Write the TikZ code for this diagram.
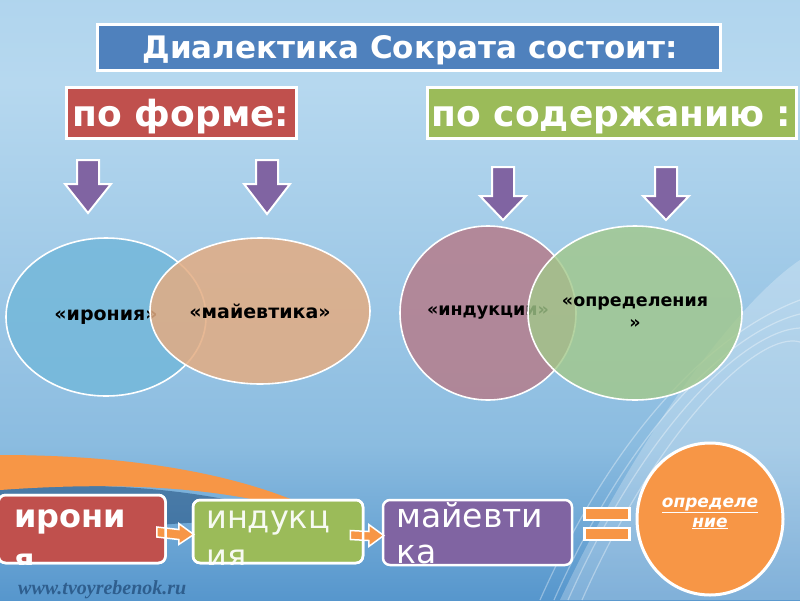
\documentclass[tikz,border=0pt]{standalone}
\usepackage{fontspec}
\setmainfont{DejaVu Sans}
\newfontfamily\wmfont{Liberation Serif}
\usetikzlibrary{shapes.geometric,calc}
\definecolor{titleblue}{HTML}{4F81BD}
\definecolor{hred}{HTML}{C0504D}
\definecolor{hgreen}{HTML}{9BBB59}
\definecolor{hpurple}{HTML}{8064A2}
\definecolor{horange}{HTML}{F79646}
\definecolor{vblue}{HTML}{74B8DA}
\definecolor{vtan}{HTML}{E3AC82}
\definecolor{vmauve}{HTML}{B57D8C}
\definecolor{vgreen}{HTML}{A2C88A}
\definecolor{bgtop}{HTML}{9CCAE8}
\definecolor{bgtopb}{HTML}{B6D8EF}
\definecolor{bgmid}{HTML}{8BBCE0}
\definecolor{bglow}{HTML}{3A82C2}
\definecolor{bgbot}{HTML}{2E70B2}
\definecolor{wmcol}{HTML}{24507E}
\pgfdeclareverticalshading{bgshade}{100bp}{color(0bp)=(bgbot); color(18bp)=(bglow); color(38bp)=(bgmid); color(68bp)=(bgtopb); color(100bp)=(bgtop)}
\newcommand\darrowshape[4]{%
  \filldraw[fill=hpurple, draw=white, line width=2pt, line join=miter]
    (#1-11,#2) -- (#1+11,#2) -- (#1+11,#3) -- (#1+23,#3) -- (#1,#4)
    -- (#1-23,#3) -- (#1-11,#3) -- cycle;}
\begin{document}
\begin{tikzpicture}[x=1pt,y=-1pt,
  hdr/.style={draw=white, line width=3pt, inner sep=0pt},
  hdrtext/.style={text=white, inner sep=0pt, anchor=base,
    font=\bfseries\fontsize{36}{40}\selectfont},
  venn/.style={ellipse, draw=white, line width=1.6pt, inner sep=0pt,
    align=center, text opacity=1},
  flowbox/.style={draw=white, line width=2.5pt, rounded corners=7pt, inner sep=0pt},
  flowtext/.style={text=white, anchor=base west, inner sep=0pt},
  barbox/.style={fill=horange, draw=white, line width=2.5pt, inner sep=0pt,
    minimum width=45pt, minimum height=12pt},
  blockarrow/.style={fill=horange, draw=white, line width=1.5pt, line join=miter}
]
\useasboundingbox (0,0) rectangle (800,600);
% background
\shade[shading=bgshade] (0,0) rectangle (800,600);
\fill[white, opacity=0.25] (560,600) .. controls (640,430) and (740,300) .. (800,260) -- (800,600) -- cycle;
\foreach \d in {0,14,28,42}{
  \draw[white, opacity=0.35, line width=1.2pt] (540+\d,600) .. controls (620+\d,420) and (720+\d,330) .. (800,300+\d);
}
\fill[bgbot!70!black, opacity=0.55] (0,488) .. controls (120,480) and (230,492) .. (320,525)
  .. controls (240,515) and (120,525) .. (0,545) -- cycle;
\fill[horange] (0,455) .. controls (110,455) and (220,468) .. (305,505) -- (290,508) .. controls (210,486) and (110,482) .. (0,490) -- cycle;
\node[font=\wmfont\itshape\bfseries\fontsize{20}{24}\selectfont, text=wmcol, anchor=base west, opacity=0.8, inner sep=0pt] (wm) at (18,594) {www.tvoyrebenok.ru};
% title
\node[hdr, fill=titleblue, minimum width=623pt, minimum height=46pt] (title) at (408.5,47) {};
\node[hdrtext, font=\bfseries\fontsize{31}{36}\selectfont] (titletext) at (410,58) {Диалектика Сократа состоит:};
% headers
\node[hdr, fill=hred, minimum width=230pt, minimum height=51pt] (form) at (181,112.5) {};
\node[hdrtext] (formtext) at (181,126) {по форме:};
\node[hdr, fill=hgreen, minimum width=369pt, minimum height=51pt] (cont) at (611.5,112.5) {};
\node[hdrtext] (conttext) at (611.5,126) {по содержанию :};
% down arrows
\darrowshape{88}{160}{184}{213}
\darrowshape{267}{160}{184}{214}
\darrowshape{503}{167}{196}{220}
\darrowshape{666}{167}{196}{220}
% venn left
\node[venn, fill=vblue, fill opacity=0.85, minimum width=200pt, minimum height=158pt,
  font=\bfseries\fontsize{19}{22}\selectfont] (iron) at (106,317) {«ирония»};
\node[venn, fill=vtan, fill opacity=0.85, minimum width=220pt, minimum height=146pt,
  font=\bfseries\fontsize{19}{22}\selectfont] (maie) at (260,311) {«майевтика»};
% venn right
\node[venn, fill=vmauve, fill opacity=0.85, minimum width=176pt, minimum height=174pt,
  font=\bfseries\fontsize{17.5}{22}\selectfont] (indu) at (488,313) {«индукции»};
\node[venn, fill=vgreen, fill opacity=0.8, minimum width=214pt, minimum height=174pt,
  font=\bfseries\fontsize{17.5}{22}\selectfont] (opre) at (635,313) {«определения\\»};
% bottom flow
\node[flowbox, fill=hred, minimum width=167pt, minimum height=68pt] (b1) at (82,529) {};
\node[flowbox, fill=hgreen, minimum width=170pt, minimum height=63pt] (b2) at (278,531.5) {};
\node[flowbox, fill=hpurple, minimum width=189pt, minimum height=65pt] (b3) at (477.5,532.5) {};
\begin{scope}
  \clip[rounded corners=7pt] (b1.north west) rectangle (b1.south east);
  \node[flowtext, font=\bfseries\fontsize{32}{38}\selectfont] (t1a) at (14,527) {ирони};
  \node[flowtext, font=\bfseries\fontsize{32}{38}\selectfont] (t1b) at (14,571) {я};
\end{scope}
\begin{scope}
  \clip[rounded corners=7pt] (b2.north west) rectangle (b2.south east);
  \node[flowtext, font=\fontsize{32}{38}\selectfont, text=white!92!hgreen] (t2a) at (206,528) {индукц};
  \node[flowtext, font=\fontsize{32}{38}\selectfont, text=white!92!hgreen] (t2b) at (206,567) {ия};
\end{scope}
\begin{scope}
  \clip[rounded corners=7pt] (b3.north west) rectangle (b3.south east);
  \node[flowtext, font=\fontsize{33}{38}\selectfont] (t3a) at (396,527) {майевти};
  \node[flowtext, font=\fontsize{33}{38}\selectfont] (t3b) at (396,563) {ка};
\end{scope}
\draw[blockarrow] ($(b1.east)+(-10,-2)$) -- ($(b2.west)+(-13,-2)$) -- ($(b2.west)+(-13,-8)$)
  -- ($(b2.west)+(2,3)$) -- ($(b2.west)+(-13,13)$) -- ($(b2.west)+(-13,8)$) -- ($(b1.east)+(-10,8)$) -- cycle;
\draw[blockarrow] ($(b2.east)+(-14,-1)$) -- ($(b3.west)+(-13,-1)$) -- ($(b3.west)+(-13,-8)$)
  -- ($(b3.west)+(2,3)$) -- ($(b3.west)+(-13,14)$) -- ($(b3.west)+(-13,8)$) -- ($(b2.east)+(-14,8)$) -- cycle;
\node[flowbox, minimum width=167pt, minimum height=68pt] (b1frame) at (b1) {};
\node[flowbox, minimum width=170pt, minimum height=63pt] (b2frame) at (b2) {};
\node[barbox] (eq1) at (607,514) {};
\node[barbox] (eq2) at (607,534) {};
\node[ellipse, fill=horange, draw=white, line width=3pt, minimum width=146pt, minimum height=152pt,
  inner sep=0pt] (defn) at (710,519) {};
\node[text=white, inner sep=0pt, anchor=base,
  font=\bfseries\itshape\fontsize{17}{20}\selectfont] (defn1) at (710,507) {\underline{определе}};
\node[text=white, inner sep=0pt, anchor=base,
  font=\bfseries\itshape\fontsize{17}{20}\selectfont] (defn2) at (710,527) {\underline{ние}};
\end{tikzpicture}
\end{document}
